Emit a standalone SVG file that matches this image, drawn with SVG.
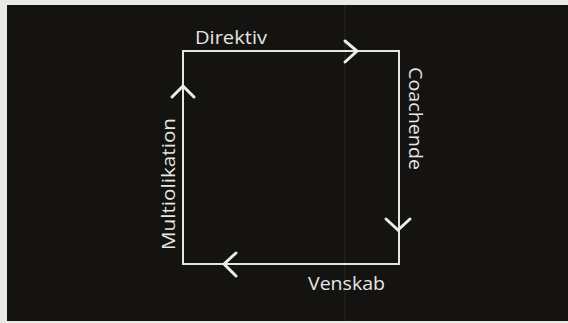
<svg xmlns="http://www.w3.org/2000/svg" width="568" height="323" viewBox="0 0 568 323">
<style>
.lbl{font-family:"Open Sans","Noto Sans",sans-serif;font-size:19px;fill:#e6e6e4}
.edge{fill:none;stroke:#e4e4e2;stroke-width:2}
.head{fill:none;stroke:#ecece9;stroke-width:3;stroke-linecap:round;stroke-linejoin:miter}
</style>
<rect x="0" y="0" width="568" height="323" fill="#e9e9e7"/>
<rect x="7" y="5" width="561" height="316" fill="#151311"/>
<line x1="345" y1="5" x2="345" y2="321" stroke="#3a3836" stroke-width="1" opacity="0.6"/>
<g id="connectors">
<rect class="edge" x="183" y="51" width="216" height="213"/>
<polyline class="head" points="345,41 357,51 345,62"/>
<polyline class="head" points="386,219 398,230 410,219"/>
<polyline class="head" points="236,253 224,264 236,276"/>
<polyline class="head" points="172,97 183,86 194,97"/>
</g>
<g id="node-direktiv"><text class="lbl" x="195" y="44" textLength="72" lengthAdjust="spacingAndGlyphs">Direktiv</text></g>
<g id="node-coachende"><text class="lbl" transform="translate(409,67) rotate(90)" textLength="103" lengthAdjust="spacingAndGlyphs">Coachende</text></g>
<g id="node-venskab"><text class="lbl" x="308" y="290" textLength="77" lengthAdjust="spacingAndGlyphs">Venskab</text></g>
<g id="node-multiolikation"><text class="lbl" transform="translate(175,250) rotate(-90)" textLength="132" lengthAdjust="spacingAndGlyphs">Multiolikation</text></g>
</svg>
